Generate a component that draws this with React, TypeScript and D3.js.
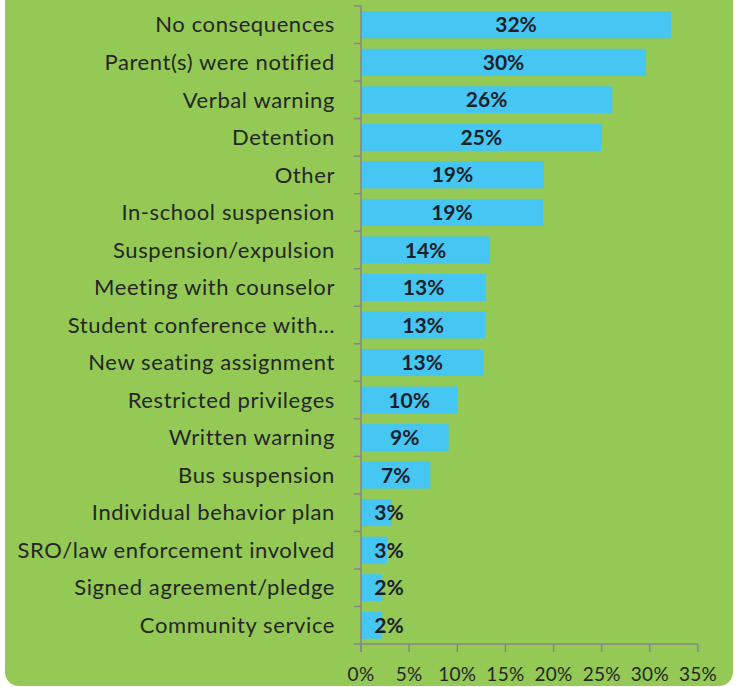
import { useEffect, useRef } from 'react';
import * as d3 from 'd3';

const categories = [
  'No consequences',
  'Parent(s) were notified',
  'Verbal warning',
  'Detention',
  'Other',
  'In-school suspension',
  'Suspension/expulsion',
  'Meeting with counselor',
  'Student conference with…',
  'New seating assignment',
  'Restricted privileges',
  'Written warning',
  'Bus suspension',
  'Individual behavior plan',
  'SRO/law enforcement involved',
  'Signed agreement/pledge',
  'Community service',
];

// share of respondents, percent
const values = [32.2, 29.6, 26.1, 25.0, 19.0, 18.9, 13.4, 13.0, 12.9, 12.7, 10.0, 9.1, 7.2, 3.2, 2.7, 2.2, 2.2];
const labels = ['32%', '30%', '26%', '25%', '19%', '19%', '14%', '13%', '13%', '13%', '10%', '9%', '7%', '3%', '3%', '2%', '2%'];
const xTicks = [0, 5, 10, 15, 20, 25, 30, 35];

const FONT = 'Lato, "DejaVu Sans", sans-serif';

export default function App() {
  const svgRef = useRef<SVGSVGElement>(null);

  useEffect(() => {
    if (!svgRef.current) return;
    const svg = d3.select(svgRef.current);
    svg.selectAll('*').remove();

    const width = 743;
    const height = 687;

    svg.append('rect').attr('width', width).attr('height', height).attr('fill', '#ffffff');
    svg
      .append('rect')
      .attr('x', 5)
      .attr('y', -30)
      .attr('width', 728)
      .attr('height', 716)
      .attr('rx', 14)
      .attr('fill', '#93c954');

    const x = d3.scaleLinear().domain([0, 35]).range([361, 698]);
    const y = d3
      .scaleBand<string>()
      .domain(categories)
      .range([6, 644])
      .paddingInner(0.28)
      .paddingOuter(0.14);

    const data = categories.map((c, i) => ({ c, v: values[i], label: labels[i] }));

    // bars
    svg
      .append('g')
      .selectAll('rect')
      .data(data)
      .enter()
      .append('rect')
      .attr('x', x(0))
      .attr('y', (d) => y(d.c)!)
      .attr('width', (d) => x(d.v) - x(0))
      .attr('height', y.bandwidth())
      .attr('fill', '#45c6f3');

    // axes
    const axisColor = '#868686';
    const step = y.step();
    const top = y.range()[0];
    const bottom = y.range()[1];
    svg
      .append('line')
      .attr('x1', x(0))
      .attr('x2', x(0))
      .attr('y1', top)
      .attr('y2', bottom + 8)
      .attr('stroke', axisColor)
      .attr('stroke-width', 1.5);
    svg
      .append('g')
      .selectAll('line')
      .data(d3.range(categories.length + 1))
      .enter()
      .append('line')
      .attr('x1', x(0) - 7)
      .attr('x2', x(0))
      .attr('y1', (i) => top + i * step)
      .attr('y2', (i) => top + i * step)
      .attr('stroke', axisColor)
      .attr('stroke-width', 1.5);

    svg
      .append('line')
      .attr('x1', x(0))
      .attr('x2', x(35))
      .attr('y1', bottom)
      .attr('y2', bottom)
      .attr('stroke', axisColor)
      .attr('stroke-width', 1.5);
    svg
      .append('g')
      .selectAll('line')
      .data(xTicks)
      .enter()
      .append('line')
      .attr('x1', (d) => x(d))
      .attr('x2', (d) => x(d))
      .attr('y1', bottom)
      .attr('y2', bottom + 8)
      .attr('stroke', axisColor)
      .attr('stroke-width', 1.5);

    svg
      .append('g')
      .selectAll('text')
      .data(xTicks)
      .enter()
      .append('text')
      .attr('x', (d) => x(d))
      .attr('y', 674)
      .attr('dy', '0.35em')
      .attr('text-anchor', 'middle')
      .style('font-family', FONT)
      .style('font-size', '19px')
      .style('letter-spacing', '0.3px')
      .style('fill', '#262626')
      .text((d) => `${d}%`);

    // category labels
    svg
      .append('g')
      .selectAll('text')
      .data(data)
      .enter()
      .append('text')
      .attr('x', 335)
      .attr('y', (d) => y(d.c)! + y.bandwidth() / 2)
      .attr('dy', '0.35em')
      .attr('text-anchor', 'end')
      .style('font-family', FONT)
      .style('font-size', '22px')
      .style('letter-spacing', '0.6px')
      .style('fill', '#262626')
      .text((d) => d.c);

    // value labels, centred but kept clear of the axis
    svg
      .append('g')
      .selectAll('text')
      .data(data)
      .enter()
      .append('text')
      .attr('x', (d) => Math.max((x(0) + x(d.v)) / 2, x(0) + 28))
      .attr('y', (d) => y(d.c)! + y.bandwidth() / 2)
      .attr('dy', '0.36em')
      .attr('text-anchor', 'middle')
      .style('font-family', FONT)
      .style('font-size', '21px')
      .style('font-weight', 700)
      .style('fill', '#1a1f2a')
      .text((d) => d.label);
  }, []);

  return (
    <div style={{ position: 'absolute', left: 0, top: 0 }}>
      <svg ref={svgRef} width={743} height={687} style={{ display: 'block' }} />
    </div>
  );
}
